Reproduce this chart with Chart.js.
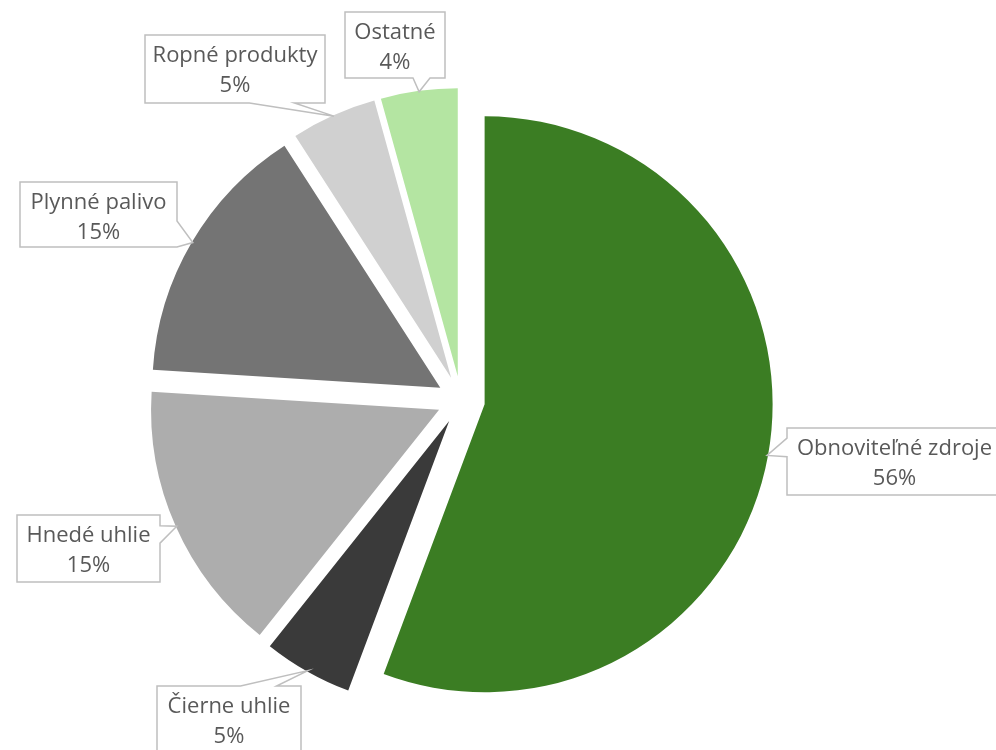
<!DOCTYPE html>
<html>
<head>
<meta charset="utf-8">
<script src="https://cdn.jsdelivr.net/npm/chart.js@4.4.7/dist/chart.umd.min.js"></script>
<style>
  html, body { margin: 0; padding: 0; background: #fff; }
  #wrap { width: 996px; height: 750px; position: relative; }
</style>
</head>
<body>
<div id="wrap"><canvas id="chart" width="996" height="750"></canvas></div>
<script>
// Data (share of sources, %)
const categories = ['Obnoviteľné zdroje', 'Čierne uhlie', 'Hnedé uhlie', 'Plynné palivo', 'Ropné produkty', 'Ostatné'];
const shares = [55.7, 5.0, 15.3, 14.9, 4.8, 4.3];
const sliceColors = ['#3b7d23', '#3a3a3a', '#adadad', '#747474', '#d0d0d0', '#b4e5a2'];

// Callout boxes, Excel style: tail sits on one edge, between two fractions of it
const callouts = [
    { x: 787, y: 428, w: 215, h: 67, edge: 'left',   t: [0.15, 0.43] },
    { x: 157, y: 686, w: 144, h: 67, edge: 'top',    t: [0.58, 0.83] },
    { x: 17,  y: 515, w: 143, h: 67, edge: 'right',  t: [0.16, 0.42] },
    { x: 20,  y: 182, w: 157, h: 65, edge: 'right',  t: [0.60, 1.00] },
    { x: 145, y: 35,  w: 180, h: 68, edge: 'bottom', t: [0.58, 0.83] },
    { x: 345, y: 12,  w: 100, h: 66, edge: 'bottom', t: [0.68, 0.85] }
];

const RADIUS = 288;
const EXPLODE = 24;   // px each slice is pulled out
const FONT = '22px "Open Sans"';
const TXT = '#595959';
const BOX_LINE = '#bfbfbf';

// Chart.js grows the arc radius by offset/4 * fix and trims its angle a bit;
// undo both so every slice keeps RADIUS and its full sweep
const explodePlugin = {
    id: 'explode',
    afterDatasetsUpdate(chart) {
        chart.getDatasetMeta(0).data.forEach(arc => {
            const fix = 1 - Math.sin(Math.min(Math.PI, arc.circumference));
            const grow = EXPLODE * fix;
            arc.outerRadius = RADIUS - grow;
            const trim = (grow / Math.PI) / (2 * RADIUS);
            arc.startAngle -= trim;
            arc.endAngle += trim;
        });
    }
};

function calloutPath(ctx, b, tip) {
    const L = b.x, T = b.y, Rt = b.x + b.w, B = b.y + b.h;
    const [f1, f2] = b.t;
    ctx.beginPath();
    ctx.moveTo(L, T);
    if (b.edge === 'top') { ctx.lineTo(L + f1 * b.w, T); ctx.lineTo(tip.x, tip.y); ctx.lineTo(L + f2 * b.w, T); }
    ctx.lineTo(Rt, T);
    if (b.edge === 'right') { ctx.lineTo(Rt, T + f1 * b.h); ctx.lineTo(tip.x, tip.y); ctx.lineTo(Rt, T + f2 * b.h); }
    ctx.lineTo(Rt, B);
    if (b.edge === 'bottom') { ctx.lineTo(L + f2 * b.w, B); ctx.lineTo(tip.x, tip.y); ctx.lineTo(L + f1 * b.w, B); }
    ctx.lineTo(L, B);
    if (b.edge === 'left') { ctx.lineTo(L, T + f2 * b.h); ctx.lineTo(tip.x, tip.y); ctx.lineTo(L, T + f1 * b.h); }
    ctx.closePath();
}

const calloutPlugin = {
    id: 'callouts',
    afterDatasetsDraw(chart) {
        const ctx = chart.ctx;
        const total = shares.reduce((a, b) => a + b, 0);
        chart.getDatasetMeta(0).data.forEach((arc, i) => {
            const b = callouts[i];
            const mid = (arc.startAngle + arc.endAngle) / 2;
            const tip = {
                x: arc.x + Math.cos(mid) * (EXPLODE + RADIUS - 1),
                y: arc.y + Math.sin(mid) * (EXPLODE + RADIUS - 1)
            };
            ctx.save();
            calloutPath(ctx, b, tip);
            ctx.fillStyle = '#ffffff';
            ctx.fill();
            ctx.lineWidth = 1.5;
            ctx.strokeStyle = BOX_LINE;
            ctx.stroke();

            ctx.font = FONT;
            ctx.fillStyle = TXT;
            ctx.textAlign = 'center';
            ctx.textBaseline = 'alphabetic';
            const cx = b.x + b.w / 2;
            ctx.fillText(categories[i], cx, b.y + 27);
            ctx.fillText(Math.round(shares[i] / total * 100) + '%', cx, b.y + 57);
            ctx.restore();
        });
    }
};

function draw() {
    new Chart(document.getElementById('chart'), {
        type: 'pie',
        data: {
            labels: categories,
            datasets: [{
                data: shares,
                backgroundColor: sliceColors,
                borderWidth: 0,
                offset: EXPLODE * 4
            }]
        },
        options: {
            responsive: false,
            animation: false,
            events: [],
            radius: RADIUS,
            layout: { padding: { left: 0, right: 74, top: 50, bottom: 0 } },
            plugins: {
                legend: { display: false },
                tooltip: { enabled: false }
            }
        },
        plugins: [explodePlugin, calloutPlugin]
    });
}

if (document.fonts && document.fonts.load) {
    document.fonts.load(FONT).then(draw, draw);
} else {
    draw();
}
</script>
</body>
</html>
